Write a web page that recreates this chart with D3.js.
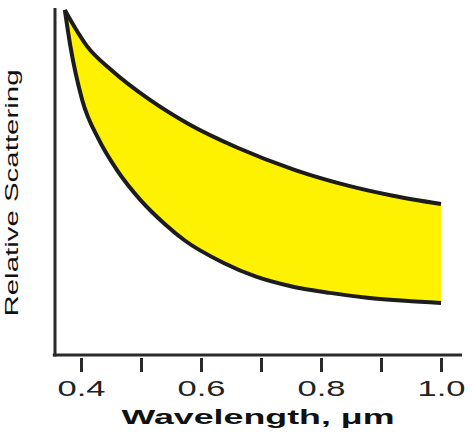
<!DOCTYPE html>
<html>
<head>
<meta charset="utf-8">
<script src="https://cdn.jsdelivr.net/npm/d3@7"></script>
<style>
  html, body { margin: 0; padding: 0; background: #fff; }
  svg { display: block; }
</style>
</head>
<body>
<svg class="chart" width="472" height="434"></svg>
<script>
// wavelength (um) and relative scattering
const upperWave = [0.373, 0.39, 0.41, 0.45, 0.515, 0.58, 0.66, 0.757, 0.85, 0.92, 1.0];
const upperScatter = [9.94, 9.43, 8.90, 8.22, 7.35, 6.65, 5.98, 5.33, 4.86, 4.59, 4.35];

const lowerWave = [0.373, 0.382, 0.402, 0.43, 0.46, 0.50, 0.54, 0.573, 0.637, 0.693, 0.748, 0.815, 0.877, 0.94, 1.0];
const lowerScatter = [9.94, 8.93, 7.35, 6.2, 5.33, 4.45, 3.77, 3.30, 2.66, 2.25, 1.99, 1.79, 1.65, 1.56, 1.50];

const tickValues = [0.4, 0.5, 0.6, 0.7, 0.8, 0.9, 1.0];
const tickLabels = { 0.4: "0.4", 0.6: "0.6", 0.8: "0.8", 1.0: "1.0" };

const svg = d3.select('.chart');

const x = d3.scaleLinear().domain([0.4, 1.0]).range([81, 441]);
const y = d3.scaleLinear().domain([0, 10]).range([355, 8]);

const upper = upperWave.map((w, i) => ({ w, v: upperScatter[i] }));
const lower = lowerWave.map((w, i) => ({ w, v: lowerScatter[i] }));

// band between the two curves: upper forward, lower backward
const line = d3.line().x(d => x(d.w)).y(d => y(d.v)).curve(d3.curveMonotoneX);
const bandPath = line(upper) + 'L' + line(lower.slice().reverse()).slice(1) + 'Z';

svg.append('path')
  .attr('d', bandPath)
  .attr('fill', '#fff200');

[upper, lower].forEach(series => {
  svg.append('path')
    .datum(series)
    .attr('d', line)
    .attr('fill', 'none')
    .attr('stroke', '#1c1c1c')
    .attr('stroke-width', 4)
    .attr('stroke-linecap', 'butt');
});

// axis lines
svg.append('line')
  .attr('x1', 55).attr('x2', 55)
  .attr('y1', y(10)).attr('y2', y(0) + 1.5)
  .attr('stroke', '#2a2a2a').attr('stroke-width', 3);

svg.append('line')
  .attr('x1', x(0.353)).attr('x2', x(1.035))
  .attr('y1', y(0)).attr('y2', y(0))
  .attr('stroke', '#2a2a2a').attr('stroke-width', 3);

// ticks sit a little below the axis line
const xAxis = d3.axisBottom(x)
  .tickValues(tickValues)
  .tickSize(14)
  .tickSizeOuter(0)
  .tickFormat(d => tickLabels[d] || "");

const gx = svg.append('g')
  .attr('transform', `translate(0,${y(0) + 3})`)
  .call(xAxis);

gx.select('.domain').remove();
gx.selectAll('.tick line')
  .attr('stroke', '#2a2a2a')
  .attr('stroke-width', 3);
gx.selectAll('.tick text')
  .attr('y', 38)
  .attr('dy', 0)
  .attr('fill', '#222')
  .attr('font-family', 'Liberation Sans, Arial, sans-serif')
  .attr('font-size', 22)
  .attr('textLength', d => tickLabels[d] ? 48 : null)
  .attr('lengthAdjust', 'spacingAndGlyphs');

svg.append('text')
  .attr('x', 258)
  .attr('y', 424)
  .attr('text-anchor', 'middle')
  .attr('font-family', 'Liberation Sans, Arial, sans-serif')
  .attr('font-weight', 'bold')
  .attr('font-size', 21)
  .attr('fill', '#111')
  .attr('textLength', 273)
  .attr('lengthAdjust', 'spacingAndGlyphs')
  .text('Wavelength, μm');

svg.append('text')
  .attr('transform', 'translate(18,193) rotate(-90)')
  .attr('text-anchor', 'middle')
  .attr('font-family', 'Liberation Sans, Arial, sans-serif')
  .attr('font-size', 18)
  .attr('fill', '#111')
  .attr('textLength', 247)
  .attr('lengthAdjust', 'spacingAndGlyphs')
  .text('Relative Scattering');
</script>
</body>
</html>
